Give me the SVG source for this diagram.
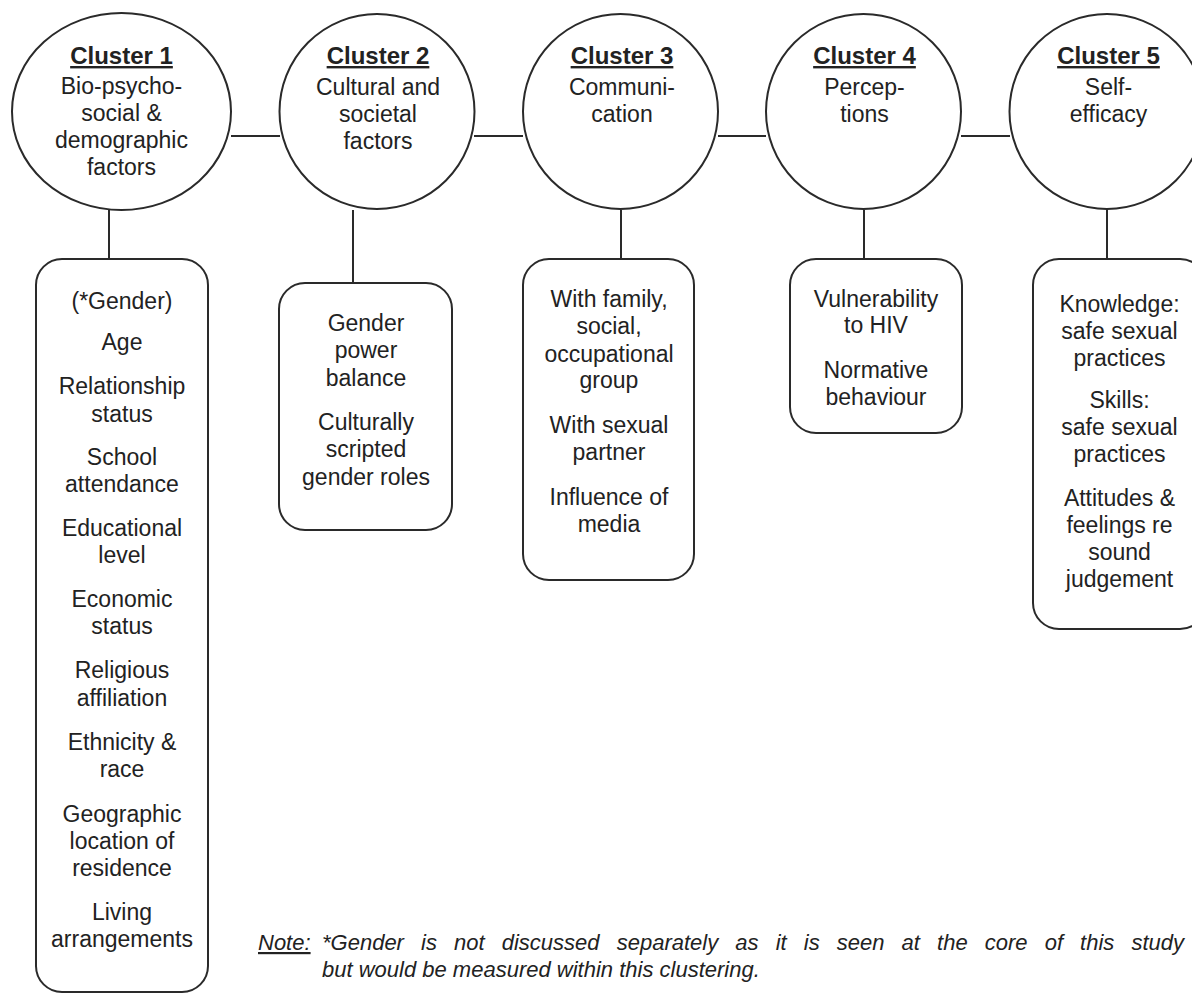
<svg xmlns="http://www.w3.org/2000/svg" width="1192" height="994" viewBox="0 0 1192 994">
<style>
.shape{fill:#fff;stroke:#2a2a2a;stroke-width:2}
.conn line{stroke:#2a2a2a;stroke-width:2}
text{font-family:"Liberation Sans",Arial,sans-serif;fill:#222;text-anchor:middle}
.t{font-size:23px}
.h{font-size:24px;font-weight:bold;text-decoration:underline}
.note{font-size:22px;font-style:italic;text-anchor:start}
</style>
<rect width="1192" height="994" fill="#fff"/>
<g id="connectors" class="conn">
<line x1="231" y1="136" x2="280" y2="136"/>
<line x1="474" y1="136" x2="523" y2="136"/>
<line x1="718" y1="136" x2="766" y2="136"/>
<line x1="961" y1="136" x2="1010" y2="136"/>
<line x1="109" y1="210" x2="109" y2="259"/>
<line x1="353" y1="210" x2="353" y2="283"/>
<line x1="621" y1="210" x2="621" y2="259"/>
<line x1="864" y1="210" x2="864" y2="259"/>
<line x1="1107" y1="210" x2="1107" y2="259"/>
</g>
<g id="cluster1">
<ellipse class="shape" cx="121.5" cy="111.5" rx="109.5" ry="98.5"/>
<text x="121.5" y="64" class="h">Cluster 1</text>
<text class="t" x="121.5" y="94">Bio-psycho-</text>
<text class="t" x="121.5" y="121">social &amp;</text>
<text class="t" x="121.5" y="148">demographic</text>
<text class="t" x="121.5" y="175">factors</text>
</g>
<g id="cluster2">
<circle class="shape" cx="377" cy="111.5" r="97.5"/>
<text x="378" y="64" class="h">Cluster 2</text>
<text class="t" x="378" y="95">Cultural and</text>
<text class="t" x="378" y="122">societal</text>
<text class="t" x="378" y="149">factors</text>
</g>
<g id="cluster3">
<circle class="shape" cx="620.5" cy="111.5" r="97.5"/>
<text x="622" y="64" class="h">Cluster 3</text>
<text class="t" x="622" y="95">Communi-</text>
<text class="t" x="622" y="122">cation</text>
</g>
<g id="cluster4">
<circle class="shape" cx="863.5" cy="111.5" r="97.5"/>
<text x="864.5" y="64" class="h">Cluster 4</text>
<text class="t" x="864.5" y="95">Percep-</text>
<text class="t" x="864.5" y="122">tions</text>
</g>
<g id="cluster5">
<circle class="shape" cx="1107" cy="111.5" r="97.5"/>
<text x="1108.5" y="64" class="h">Cluster 5</text>
<text class="t" x="1108.5" y="95">Self-</text>
<text class="t" x="1108.5" y="122">efficacy</text>
</g>
<g id="box1">
<rect class="shape" x="36" y="259" width="172" height="733" rx="26"/>
<text class="t" x="122" y="309">(*Gender)</text>
<text class="t" x="122" y="350">Age</text>
<text class="t" x="122" y="394">Relationship</text>
<text class="t" x="122" y="422">status</text>
<text class="t" x="122" y="465">School</text>
<text class="t" x="122" y="492">attendance</text>
<text class="t" x="122" y="536">Educational</text>
<text class="t" x="122" y="563">level</text>
<text class="t" x="122" y="607">Economic</text>
<text class="t" x="122" y="634">status</text>
<text class="t" x="122" y="678">Religious</text>
<text class="t" x="122" y="706">affiliation</text>
<text class="t" x="122" y="750">Ethnicity &amp;</text>
<text class="t" x="122" y="777">race</text>
<text class="t" x="122" y="822">Geographic</text>
<text class="t" x="122" y="849">location of</text>
<text class="t" x="122" y="876">residence</text>
<text class="t" x="122" y="920">Living</text>
<text class="t" x="122" y="947">arrangements</text>
</g>
<g id="box2">
<rect class="shape" x="279" y="283" width="173" height="247" rx="26"/>
<text class="t" x="366" y="331">Gender</text>
<text class="t" x="366" y="358">power</text>
<text class="t" x="366" y="386">balance</text>
<text class="t" x="366" y="430">Culturally</text>
<text class="t" x="366" y="457">scripted</text>
<text class="t" x="366" y="485">gender roles</text>
</g>
<g id="box3">
<rect class="shape" x="523" y="259" width="171" height="321" rx="26"/>
<text class="t" x="609" y="307">With family,</text>
<text class="t" x="609" y="334">social,</text>
<text class="t" x="609" y="362">occupational</text>
<text class="t" x="609" y="388">group</text>
<text class="t" x="609" y="433">With sexual</text>
<text class="t" x="609" y="460">partner</text>
<text class="t" x="609" y="505">Influence of</text>
<text class="t" x="609" y="532">media</text>
</g>
<g id="box4">
<rect class="shape" x="790" y="259" width="172" height="174" rx="26"/>
<text class="t" x="876" y="307">Vulnerability</text>
<text class="t" x="876" y="333">to HIV</text>
<text class="t" x="876" y="378">Normative</text>
<text class="t" x="876" y="405">behaviour</text>
</g>
<g id="box5">
<rect class="shape" x="1033" y="259" width="173" height="370" rx="26"/>
<text class="t" x="1119.5" y="312">Knowledge:</text>
<text class="t" x="1119.5" y="339">safe sexual</text>
<text class="t" x="1119.5" y="366">practices</text>
<text class="t" x="1119.5" y="408">Skills:</text>
<text class="t" x="1119.5" y="435">safe sexual</text>
<text class="t" x="1119.5" y="462">practices</text>
<text class="t" x="1119.5" y="506">Attitudes &amp;</text>
<text class="t" x="1119.5" y="533">feelings re</text>
<text class="t" x="1119.5" y="560">sound</text>
<text class="t" x="1119.5" y="587">judgement</text>
</g>
<g id="note">
<text class="note" x="258" y="950" text-decoration="underline">Note:</text>
<text class="note" x="322" y="950" word-spacing="11">*Gender is not discussed separately as it is seen at the core of this study</text>
<text class="note" x="322" y="977">but would be measured within this clustering.</text>
</g>
</svg>
